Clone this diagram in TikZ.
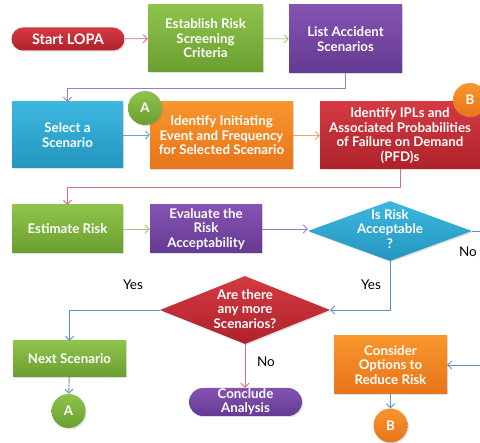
\documentclass[tikz,border=0pt]{standalone}
\usepackage{fontspec}
\setmainfont{Lato}
\usetikzlibrary{shapes.geometric,arrows.meta,shadows}
\definecolor{redT}{HTML}{D43A42}
\definecolor{redB}{HTML}{AE222B}
\definecolor{grnT}{HTML}{8EC44C}
\definecolor{grnB}{HTML}{6A9E30}
\definecolor{purT}{HTML}{8553B2}
\definecolor{purB}{HTML}{643A92}
\definecolor{bluT}{HTML}{3DB7E0}
\definecolor{bluB}{HTML}{2496BE}
\definecolor{orgT}{HTML}{F8962C}
\definecolor{orgB}{HTML}{E8741A}
\definecolor{lnRed}{HTML}{D9707A}
\definecolor{lnGrn}{HTML}{9CCB6A}
\definecolor{lnPur}{HTML}{9A7BC0}
\definecolor{lnBlu}{HTML}{5BA8D8}
\definecolor{lnBlu2}{HTML}{5B8FD0}
\definecolor{lnOrg}{HTML}{F4A060}
\begin{document}
\begin{tikzpicture}[x=1pt,y=-1pt,
  base/.style={draw=none,inner sep=0pt,align=center,text=white,
    font=\bfseries\fontsize{13.3}{14.5}\selectfont,
    drop shadow={opacity=0.25,shadow xshift=1.2pt,shadow yshift=-1.2pt}},
  redbox/.style={base,top color=redT,bottom color=redB},
  grnbox/.style={base,top color=grnT,bottom color=grnB},
  purbox/.style={base,top color=purT,bottom color=purB},
  blubox/.style={base,top color=bluT,bottom color=bluB},
  orgbox/.style={base,top color=orgT,bottom color=orgB},
  circ/.style={circle,minimum size=34pt},
  dia/.style={diamond,aspect=2.6},
  txt/.style={align=center,text=white,font=\bfseries\fontsize{13.3}{14.5}\selectfont},
  lab/.style={font=\fontsize{13.5}{15}\selectfont,text=black},
  conn/.style={line width=0.9pt,-{Straight Barb[length=4pt,width=8pt]}}]
\useasboundingbox (0,0) rectangle (480,443);
\fill[white] (0,0) rectangle (480,443);
\clip (0,0) rectangle (480,443);

% row 1
\node[redbox,rounded corners=11.5pt,minimum width=113pt,minimum height=23pt,font=\bfseries\fontsize{14.5}{16}\selectfont] (start) at (68,39) {Start LOPA};
\node[grnbox,minimum width=115pt,minimum height=67pt] (estab) at (205.5,38.5) {Establish Risk\\Screening\\Criteria};
\node[purbox,minimum width=113pt,minimum height=68pt] (list) at (345.5,39) {List Accident\\Scenarios};

% row 2
\node[blubox,minimum width=111pt,minimum height=66pt] (select) at (67.5,135) {Select a\\Scenario};
\node[orgbox,minimum width=143pt,minimum height=67pt] (ident) at (221.5,135.5) {Identify Initiating\\Event and Frequency\\for Selected Scenario};
\node[redbox,minimum width=160pt,minimum height=67pt] (ipl) at (400,135.5) {Identify IPLs and\\Associated Probabilities\\of Failure on Demand\\(PFD)s};
\node[grnbox,circ] (cA1) at (145,108) {A};
\node[orgbox,circ] (cB1) at (470,100) {B};

% row 3
\node[grnbox,minimum width=111pt,minimum height=48pt] (est) at (67.5,229) {Estimate Risk};
\node[purbox,minimum width=112pt,minimum height=48pt] (eval) at (206,229) {Evaluate the\\Risk\\Acceptability};
\node[blubox,dia,minimum width=164pt,minimum height=60pt] (risk) at (390,231) {};
\node[txt] (risktxt) at (390,229) {Is Risk\\Acceptable\\?};

% row 4
\node[redbox,dia,minimum width=170pt,minimum height=68pt] (more) at (245,310) {};
\node[txt] (moretxt) at (245,309) {Are there\\any more\\Scenarios?};

% row 5
\node[grnbox,minimum width=113pt,minimum height=36pt] (next) at (69.5,359) {Next Scenario};
\node[grnbox,circ] (cA2) at (68.5,411) {A};
\node[purbox,rounded corners=14pt,minimum width=113pt,minimum height=28pt,font=\bfseries\fontsize{13.3}{14}\selectfont] (concl) at (245.5,402) {Conclude\\Analysis};
\node[orgbox,minimum width=113pt,minimum height=58pt] (cons) at (390.5,365) {Consider\\Options to\\Reduce Risk};
\node[orgbox,circ] (cB2) at (390.5,425.5) {B};

% connectors
\draw[conn,lnRed] (start) -- (estab);
\draw[conn,lnGrn] (estab) -- (list);
\draw[conn,lnPur] (list.south) -- (345.5,88) -| (select.north);
\draw[conn,lnBlu] (select.east) -- (select.east -| ident.west);
\draw[conn,lnOrg] (ident) -- (ipl);
\draw[conn,lnRed] (ipl.south) -- (400,187) -| (est.north);
\draw[conn,lnGrn] (est) -- (eval);
\draw[conn,lnPur] (eval.east) -- (eval.east -| risk.west);
\draw[conn,lnBlu2] (risk.south) |- (more.east);
\draw[conn,lnBlu2] (risk.east) -- (495,231) |- (cons.east);
\draw[conn,lnBlu2] (more.west) -| (next.north);
\draw[conn,lnRed] (more.south) -- (concl.north -| more.south);
\draw[conn,lnBlu2] (next) -- (cA2);
\draw[conn,lnBlu2] (cons) -- (cB2);

% labels
\node[lab] (yes1) at (133,285) {Yes};
\node[lab] (yes2) at (371,285) {Yes};
\node[lab] (no1) at (468,252) {No};
\node[lab] (no2) at (266,362) {No};
\end{tikzpicture}
\end{document}
